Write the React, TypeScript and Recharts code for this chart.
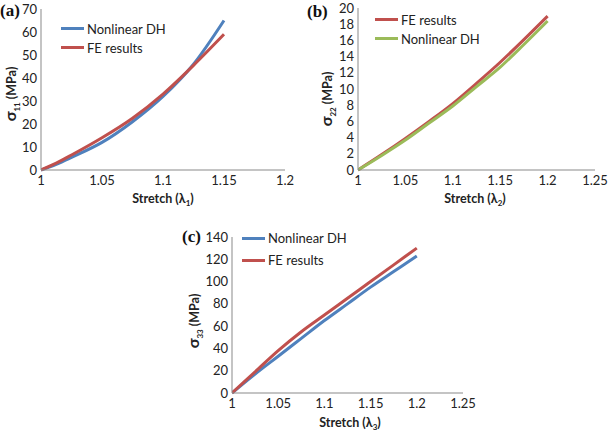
import React from "react";
import { LineChart, Line, XAxis, YAxis, Legend } from "recharts";

// (a) sigma_11 vs stretch lambda_1
const stretchA = [1, 1.0125, 1.025, 1.05, 1.075, 1.1, 1.125, 1.15];
const dhA = [0, 2.5, 5.5, 12, 21, 32, 46, 65];
const feA = [0, 3, 6.5, 14, 22.5, 33, 45.5, 59];
const ticksXA = [1, 1.05, 1.1, 1.15, 1.2];
const ticksYA = [0, 10, 20, 30, 40, 50, 60, 70];

// (b) sigma_22 vs stretch lambda_2
const stretchB = [1, 1.025, 1.05, 1.075, 1.1, 1.125, 1.15, 1.175, 1.2];
const feB = [0, 1.9, 3.9, 6, 8.2, 10.7, 13.3, 16.1, 19];
const dhB = [0, 1.8, 3.7, 5.8, 7.9, 10.3, 12.7, 15.5, 18.4];
const ticksXB = [1, 1.05, 1.1, 1.15, 1.2, 1.25];
const ticksYB = [0, 2, 4, 6, 8, 10, 12, 14, 16, 18, 20];

// (c) sigma_33 vs stretch lambda_3
const stretchC = [1, 1.025, 1.05, 1.075, 1.1, 1.125, 1.15, 1.175, 1.2];
const dhC = [0, 17, 33, 49, 65, 80, 95, 109, 123];
const feC = [0, 19, 38, 55, 70, 85, 100, 115, 130];
const ticksXC = [1, 1.05, 1.1, 1.15, 1.2, 1.25];
const ticksYC = [0, 20, 40, 60, 80, 100, 120, 140];

const BLUE = "#4f81bd";
const RED = "#c0504d";
const GREEN = "#9bbb59";
const AXIS = "#898989";
const FONT = "Lato, 'Open Sans', sans-serif";

const rows = (xs: number[], dh: number[], fe: number[]) =>
  xs.map((x, i) => ({ x, dh: dh[i], fe: fe[i] }));

type Series = { key: string; name: string; color: string };

// legend in the same order as the series were given
const LegendBox = ({ series, rowH }: { series: Series[]; rowH: number }) => (
  <div style={{ fontFamily: FONT, fontSize: 13, color: "#222" }}>
    {series.map((s) => (
      <div key={s.key} style={{ height: rowH, display: "flex", alignItems: "center" }}>
        <span style={{ display: "inline-block", width: 23, height: 3, background: s.color, marginRight: 3 }} />
        <span>{s.name}</span>
      </div>
    ))}
  </div>
);

interface PanelProps {
  tag: string;
  sub: string;
  width: number;
  height: number;
  yWidth: number;
  xHeight: number;
  margin: { top: number; right: number; left: number; bottom: number };
  data: any[];
  xTicks: number[];
  yTicks: number[];
  series: Series[];
  legendPos: { top: number; left: number };
  rowH: number;
  tagPos: [number, number];
  yLabelPos: [number, number];
  xLabelPos: [number, number];
}

const Panel = (p: PanelProps) => {
  const xMax = p.xTicks[p.xTicks.length - 1];
  const yMax = p.yTicks[p.yTicks.length - 1];
  return (
    <LineChart width={p.width} height={p.height} data={p.data} margin={p.margin}>
      <XAxis
        type="number"
        dataKey="x"
        domain={[1, xMax]}
        ticks={p.xTicks}
        interval={0}
        allowDataOverflow
        height={p.xHeight}
        tickLine={false}
        tickSize={0}
        tickMargin={6}
        axisLine={{ stroke: AXIS }}
        tick={{ fill: "#222", fontSize: 13, fontFamily: FONT }}
        label={() => (
          <text
            x={p.xLabelPos[0]}
            y={p.xLabelPos[1]}
            textAnchor="middle"
            fontFamily={FONT}
            fontWeight="bold"
            fontSize={12.5}
            fill="#222"
          >
            Stretch (λ
            <tspan fontSize={8} dy={3}>{p.sub}</tspan>
            <tspan dy={-3}>)</tspan>
          </text>
        )}
      />
      <YAxis
        type="number"
        domain={[0, yMax]}
        ticks={p.yTicks}
        interval={0}
        width={p.yWidth}
        tickLine={false}
        tickSize={0}
        tickMargin={4}
        axisLine={{ stroke: AXIS }}
        tick={{ fill: "#222", fontSize: 13, fontFamily: FONT }}
        label={() => (
          <g>
            <text
              x={p.tagPos[0]}
              y={p.tagPos[1]}
              fontFamily="'Liberation Serif', 'DejaVu Serif', serif"
              fontWeight="bold"
              fontSize={17}
              fill="#111"
            >
              {p.tag}
            </text>
            <text
              transform={`translate(${p.yLabelPos[0]},${p.yLabelPos[1]}) rotate(-90)`}
              textAnchor="middle"
              fontFamily={FONT}
              fontWeight="bold"
              fontSize={12.5}
              fill="#222"
            >
              <tspan fontSize={16}>σ</tspan>
              <tspan fontSize={8} dy={4}>{p.sub + p.sub}</tspan>
              <tspan dy={-4}> (MPa)</tspan>
            </text>
          </g>
        )}
      />
      <Legend
        layout="vertical"
        align="center"
        verticalAlign="middle"
        wrapperStyle={{ top: p.legendPos.top, left: p.legendPos.left, width: "auto" }}
        content={() => <LegendBox series={p.series} rowH={p.rowH} />}
      />
      {p.series.map((s) => (
        <Line
          key={s.key}
          type="monotone"
          dataKey={s.key}
          name={s.name}
          stroke={s.color}
          strokeWidth={3}
          dot={false}
          activeDot={false}
          isAnimationActive={false}
        />
      ))}
    </LineChart>
  );
};

const App = () => (
  <div style={{ position: "absolute", left: 0, top: 0, width: 610, height: 433, background: "#fff" }}>
    <div style={{ position: "absolute", left: 0, top: 0 }}>
      <Panel
        tag="(a)"
        sub="1"
        width={300}
        height={215}
        yWidth={41}
        xHeight={45}
        margin={{ top: 9, right: 15, left: 0, bottom: 0 }}
        data={rows(stretchA, dhA, feA)}
        xTicks={ticksXA}
        yTicks={ticksYA}
        series={[
          { key: "dh", name: "Nonlinear DH", color: BLUE },
          { key: "fe", name: "FE results", color: RED },
        ]}
        legendPos={{ top: 19, left: 61 }}
        rowH={19}
        tagPos={[0, 16]}
        yLabelPos={[16, 94]}
        xLabelPos={[163, 203]}
      />
    </div>
    <div style={{ position: "absolute", left: 300, top: 0 }}>
      <Panel
        tag="(b)"
        sub="2"
        width={310}
        height={215}
        yWidth={58}
        xHeight={45}
        margin={{ top: 8, right: 15, left: 0, bottom: 0 }}
        data={rows(stretchB, dhB, feB)}
        xTicks={ticksXB}
        yTicks={ticksYB}
        series={[
          { key: "fe", name: "FE results", color: RED },
          { key: "dh", name: "Nonlinear DH", color: GREEN },
        ]}
        legendPos={{ top: 10, left: 75 }}
        rowH={19}
        tagPos={[7, 17]}
        yLabelPos={[32, 99]}
        xLabelPos={[175, 203]}
      />
    </div>
    <div style={{ position: "absolute", left: 160, top: 220 }}>
      <Panel
        tag="(c)"
        sub="3"
        width={325}
        height={213}
        yWidth={72}
        xHeight={40}
        margin={{ top: 17, right: 22, left: 0, bottom: 0 }}
        data={rows(stretchC, dhC, feC)}
        xTicks={ticksXC}
        yTicks={ticksYC}
        series={[
          { key: "dh", name: "Nonlinear DH", color: BLUE },
          { key: "fe", name: "FE results", color: RED },
        ]}
        legendPos={{ top: 7, left: 82 }}
        rowH={22}
        tagPos={[22, 22]}
        yLabelPos={[39, 101]}
        xLabelPos={[190, 207]}
      />
    </div>
  </div>
);

export default App;
